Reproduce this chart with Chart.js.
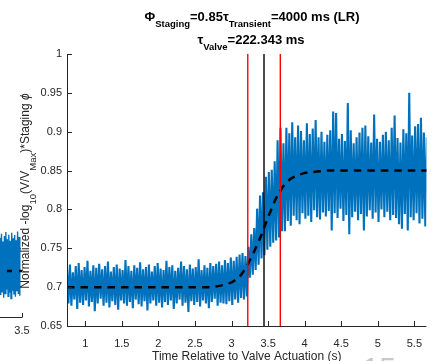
<!DOCTYPE html>
<html lang="en">
  <head>
    <meta charset="UTF-8" />
    <title>Staging response</title>
    <style>
      * {
        margin: 0;
        padding: 0;
        box-sizing: border-box;
      }

      body {
        width: 433px;
        height: 361px;
        overflow: hidden;
        background: #fff;
        position: relative;
        font-family: "Liberation Sans", Arial, sans-serif;
      }

      #side {
        position: absolute;
        left: 0;
        top: 225px;
      }

      #main {
        position: absolute;
        left: 0;
        top: 0;
      }
    </style>
  </head>
  <body>
    <canvas id="side" width="40" height="115"></canvas>
    <canvas id="main" width="433" height="361"></canvas>

    <script src="https://cdn.jsdelivr.net/npm/chart.js"></script>
    <script>
      // sampling of the measured trace
      const startT = 0.75;
      const stepT = 0.02;

      // before the valve opens (~0.70)
      const baseNoise = [
        0.724, 0.679, 0.729, 0.676, 0.719, 0.684, 0.727, 0.672, 0.731, 0.68,
        0.722, 0.677, 0.726, 0.683, 0.734, 0.675, 0.721, 0.681, 0.728, 0.669,
        0.725, 0.679, 0.73, 0.685, 0.723, 0.676, 0.727, 0.68, 0.733, 0.674,
        0.72, 0.682, 0.726, 0.677, 0.729, 0.671, 0.724, 0.683, 0.722, 0.679,
        0.735, 0.676, 0.727, 0.681, 0.721, 0.673, 0.728, 0.684, 0.725, 0.678,
        0.732, 0.675, 0.723, 0.682, 0.726, 0.67, 0.729, 0.679, 0.72, 0.683,
        0.727, 0.676, 0.731, 0.68, 0.724, 0.674, 0.722, 0.681, 0.734, 0.677,
        0.726, 0.683, 0.728, 0.672, 0.721, 0.679, 0.725, 0.684, 0.733, 0.676,
        0.727, 0.68, 0.723, 0.668, 0.729, 0.682, 0.724, 0.677, 0.726, 0.681,
        0.736, 0.675, 0.722, 0.683, 0.728, 0.679, 0.725, 0.673, 0.731, 0.681,
        0.727, 0.685, 0.73, 0.676, 0.733, 0.68, 0.728, 0.679, 0.735, 0.678,
        0.731, 0.682, 0.738, 0.677, 0.734, 0.684, 0.739, 0.68, 0.742, 0.686,
        0.744, 0.684, 0.74, 0.688,
      ];

      // transition between the red markers
      const riseNoise = [
        0.752, 0.712, 0.768, 0.716, 0.776, 0.722, 0.801, 0.729, 0.818, 0.737,
        0.822, 0.741, 0.842, 0.748, 0.848, 0.752, 0.851, 0.757, 0.862, 0.76,
        0.889, 0.764, 0.905, 0.772,
      ];

      // staged plateau (~0.85)
      const plateauNoise = [
        0.885, 0.772, 0.905, 0.785, 0.898, 0.779, 0.912, 0.792, 0.893, 0.786,
        0.908, 0.781, 0.901, 0.795, 0.889, 0.788, 0.911, 0.792, 0.897, 0.784,
        0.904, 0.799, 0.915, 0.79, 0.893, 0.787, 0.9, 0.796, 0.887, 0.791,
        0.896, 0.798, 0.902, 0.773, 0.926, 0.795, 0.924, 0.789, 0.891, 0.801,
        0.897, 0.785, 0.888, 0.793, 0.937, 0.768, 0.902, 0.79, 0.885, 0.797,
        0.893, 0.786, 0.899, 0.794, 0.905, 0.773, 0.908, 0.791, 0.894, 0.799,
        0.886, 0.788, 0.922, 0.796, 0.891, 0.784, 0.887, 0.8, 0.896, 0.79,
        0.9, 0.797, 0.889, 0.786, 0.905, 0.793, 0.921, 0.789, 0.892, 0.781,
        0.886, 0.775, 0.903, 0.794, 0.898, 0.773, 0.95, 0.79, 0.895, 0.786,
        0.907, 0.795, 0.91, 0.782, 0.918, 0.788, 0.899, 0.778, 0.893, 0.791,
      ];

      // fitted curve (dashed)
      const fitT = [
        0.75, 1.0, 1.5, 2.0, 2.5, 2.7, 2.8, 2.9, 3.0, 3.1, 3.2, 3.3, 3.4, 3.5,
        3.6, 3.7, 3.8, 3.9, 4.0, 4.1, 4.2, 4.3, 4.5, 5.0, 5.5, 5.7,
      ];
      const fitV = [
        0.7, 0.7, 0.7, 0.7, 0.7, 0.7, 0.701, 0.703, 0.706, 0.712, 0.725, 0.744,
        0.765, 0.79, 0.813, 0.829, 0.839, 0.844, 0.847, 0.848, 0.849, 0.85,
        0.85, 0.85, 0.85, 0.85,
      ];

      // valve actuation marker and +/- tau valve
      const markerT = [3.222, 3.444, 3.667];
      const markerColors = ["#ff0000", "#000000", "#ff0000"];

      const xTicks = [1, 1.5, 2, 2.5, 3, 3.5, 4, 4.5, 5, 5.5];
      const yTicks = [0.65, 0.7, 0.75, 0.8, 0.85, 0.9, 0.95, 1];

      // neighbouring panel cut off at the left edge
      const sideStartT = 3.2;
      const sideStepT = 0.01;
      const sideNoise = [
        0.772, 0.648, 0.781, 0.655, 0.764, 0.642, 0.776, 0.651, 0.785, 0.66,
        0.769, 0.645, 0.779, 0.653, 0.766, 0.64, 0.783, 0.657, 0.771, 0.649,
        0.778, 0.644, 0.767, 0.656, 0.786, 0.65, 0.774, 0.646,
      ];
      const sideFitT = [3.2, 3.5];
      const sideFitV = [0.7, 0.7];
      const sideTicks = [3.5];

      const FONT = '"Liberation Sans", Arial, sans-serif';
      const AXIS = "#262626";

      const signal = baseNoise
        .concat(riseNoise, plateauNoise)
        .map((v, i) => ({ x: startT + i * stepT, y: v }));
      const fit = fitT.map((t, i) => ({ x: t, y: fitV[i] }));

      function drawRich(ctx, parts, cx, baseY, mainFont, subFont, drop) {
        let w = 0;
        parts.forEach((p) => {
          ctx.font = p.font || (p.sub ? subFont : mainFont);
          w += ctx.measureText(p.t).width;
        });
        let x = cx - w / 2;
        ctx.textAlign = "left";
        ctx.textBaseline = "alphabetic";
        parts.forEach((p) => {
          ctx.font = p.font || (p.sub ? subFont : mainFont);
          ctx.fillText(p.t, x, baseY + (p.sub ? drop : 0));
          x += ctx.measureText(p.t).width;
        });
      }

      const axesPlugin = {
        id: "matlabAxes",
        afterDatasetsDraw(chart) {
          const ctx = chart.ctx;
          const xs = chart.scales.x;
          const ys = chart.scales.y;
          const a = chart.chartArea;
          ctx.save();
          ctx.strokeStyle = AXIS;
          ctx.lineWidth = 1;
          ctx.beginPath();
          ctx.moveTo(a.left + 0.5, a.top);
          ctx.lineTo(a.left + 0.5, a.bottom + 0.5);
          ctx.lineTo(a.right, a.bottom + 0.5);
          yTicks.forEach((v) => {
            const py = Math.round(ys.getPixelForValue(v)) + 0.5;
            ctx.moveTo(a.left, py);
            ctx.lineTo(a.left + 5, py);
          });
          xTicks.forEach((v) => {
            const px = Math.round(xs.getPixelForValue(v)) + 0.5;
            ctx.moveTo(px, a.bottom);
            ctx.lineTo(px, a.bottom - 5);
          });
          ctx.stroke();
          ctx.restore();
        },
        afterDraw(chart) {
          const ctx = chart.ctx;
          ctx.save();
          ctx.fillStyle = "#000";
          const tMain = "bold 13px " + FONT;
          const tSub = "bold 9.5px " + FONT;
          drawRich(
            ctx,
            [
              { t: "Φ" },
              { t: "Staging", sub: true },
              { t: "=0.85τ" },
              { t: "Transient", sub: true },
              { t: "=4000 ms (LR)" },
            ],
            252,
            21,
            tMain,
            tSub,
            6
          );
          drawRich(
            ctx,
            [{ t: "τ" }, { t: "Valve", sub: true }, { t: "=222.343 ms" }],
            251,
            43.5,
            tMain,
            tSub,
            6
          );

          // y axis label, rotated
          ctx.fillStyle = AXIS;
          ctx.translate(29, 191);
          ctx.rotate(-Math.PI / 2);
          drawRich(
            ctx,
            [
              { t: "Normalized -log" },
              { t: "10", sub: true },
              { t: "(V/V" },
              { t: "Max", sub: true },
              { t: ")*Staging " },
              { t: "ϕ", font: "italic 12px " + FONT },
            ],
            0,
            0,
            "12px " + FONT,
            "9.5px " + FONT,
            7
          );
          ctx.restore();

          // cut-off panel label of the figure
          ctx.save();
          ctx.fillStyle = "#c8c8c8";
          ctx.font = "30px " + FONT;
          ctx.textAlign = "left";
          ctx.textBaseline = "alphabetic";
          ctx.fillText("15", 362.5, 377.5);
          ctx.restore();
        },
      };

      const datasets = markerT.map((t, i) => ({
        data: [
          { x: t, y: 0.65 },
          { x: t, y: 1 },
        ],
        borderColor: markerColors[i],
        borderWidth: 1.4,
        pointRadius: 0,
        order: 0,
      }));
      datasets.push({
        data: fit,
        borderColor: "#000",
        borderWidth: 2.5,
        borderDash: [7.5, 6],
        pointRadius: 0,
        order: 1,
      });
      datasets.push({
        data: signal,
        borderColor: "#0072BD",
        borderWidth: 2.1,
        pointRadius: 0,
        order: 2,
      });

      new Chart(document.getElementById("main"), {
        type: "line",
        data: { datasets: datasets },
        options: {
          responsive: false,
          animation: false,
          events: [],
          layout: { padding: { top: 54, left: 0, right: 0, bottom: 0 } },
          plugins: {
            legend: { display: false },
            tooltip: { enabled: false },
            title: { display: false },
          },
          scales: {
            x: {
              type: "linear",
              min: 0.75,
              max: 5.665,
              afterBuildTicks: (s) => {
                s.ticks = xTicks.map((v) => ({ value: v }));
              },
              afterFit: (s) => {
                s.height = 35;
              },
              grid: { display: false, drawTicks: false },
              border: { display: false },
              ticks: {
                padding: 11,
                color: AXIS,
                font: { family: FONT, size: 11 },
                maxRotation: 0,
                autoSkip: false,
                callback: (v) => String(+v.toFixed(1)),
              },
              title: {
                display: true,
                text: "Time Relative to Valve Actuation (s)",
                color: AXIS,
                font: { family: FONT, size: 12 },
                padding: { top: 0, bottom: -3 },
              },
            },
            y: {
              type: "linear",
              min: 0.65,
              max: 1,
              afterBuildTicks: (s) => {
                s.ticks = yTicks.map((v) => ({ value: v }));
              },
              afterFit: (s) => {
                s.width = 67;
              },
              grid: { display: false, drawTicks: false },
              border: { display: false },
              ticks: {
                padding: 5,
                color: AXIS,
                font: { family: FONT, size: 11 },
                callback: (v) => String(+v.toFixed(2)),
              },
            },
          },
        },
        plugins: [axesPlugin],
      });

      // small neighbouring panel
      const sideAxis = {
        id: "sideAxis",
        afterDatasetsDraw(chart) {
          const ctx = chart.ctx;
          const a = chart.chartArea;
          const xs = chart.scales.x;
          ctx.save();
          ctx.strokeStyle = AXIS;
          ctx.lineWidth = 1;
          ctx.beginPath();
          ctx.moveTo(0, a.bottom + 0.5);
          ctx.lineTo(a.right + 0.5, a.bottom + 0.5);
          sideTicks.forEach((v) => {
            const px = Math.round(xs.getPixelForValue(v)) + 0.5;
            ctx.moveTo(px, a.bottom);
            ctx.lineTo(px, a.bottom - 4);
          });
          ctx.stroke();
          ctx.restore();
        },
      };

      new Chart(document.getElementById("side"), {
        type: "line",
        data: {
          datasets: [
            {
              data: sideFitT.map((t, i) => ({ x: t, y: sideFitV[i] })),
              borderColor: "#000",
              borderWidth: 2.5,
              borderDash: [5, 7],
              borderDashOffset: 5,
              pointRadius: 0,
              order: 0,
            },
            {
              data: sideNoise.map((v, i) => ({
                x: sideStartT + i * sideStepT,
                y: v,
              })),
              borderColor: "#0072BD",
              borderWidth: 1.4,
              pointRadius: 0,
              order: 1,
            },
          ],
        },
        options: {
          responsive: false,
          animation: false,
          events: [],
          layout: { padding: { top: 0, left: 0, right: 18, bottom: 0 } },
          plugins: {
            legend: { display: false },
            tooltip: { enabled: false },
          },
          scales: {
            x: {
              type: "linear",
              min: 3.2,
              max: 3.5,
              afterBuildTicks: (s) => {
                s.ticks = sideTicks.map((v) => ({ value: v }));
              },
              afterFit: (s) => {
                s.height = 23;
              },
              grid: { display: false, drawTicks: false },
              border: { display: false },
              ticks: {
                padding: 7,
                color: AXIS,
                font: { family: FONT, size: 11 },
                maxRotation: 0,
                autoSkip: false,
                callback: (v) => String(+v.toFixed(1)),
              },
            },
            y: { display: false, min: 0.6, max: 0.8 },
          },
        },
        plugins: [sideAxis],
      });
    </script>
  </body>
</html>
